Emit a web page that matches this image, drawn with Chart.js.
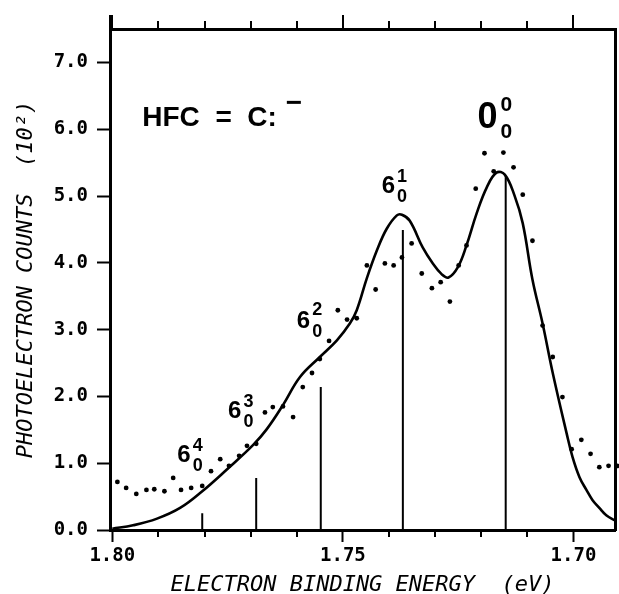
<!DOCTYPE html>
<html><head><meta charset="utf-8">
<script src="https://cdn.jsdelivr.net/npm/chart.js@4/dist/chart.umd.min.js"></script>
<style>html,body{margin:0;padding:0;background:#fff}#wrap{width:619px;height:594px;position:relative}</style>
</head><body><div id="wrap"><canvas id="c" width="619" height="594"></canvas></div>
<script>
// Measured photoelectron counts (10^2) vs electron binding energy (eV)
const dotEnergy = [1.7989,1.7970,1.7948,1.7926,1.7909,1.7887,1.7868,1.7851,1.7829,1.7805,
  1.7786,1.7766,1.7747,1.7725,1.7708,1.7688,1.7669,1.7652,1.7630,1.7608,
  1.7587,1.7567,1.7550,1.7530,1.7511,1.7491,1.7470,1.7448,1.7429,1.7409,
  1.7390,1.7372,1.7351,1.7329,1.7307,1.7288,1.7268,1.7249,1.7232,1.7212,
  1.7193,1.7173,1.7152,1.7130,1.7110,1.7089,1.7067,1.7045,1.7024,1.7004,
  1.6983,1.6963,1.6944,1.6924,1.6905];
const dotCounts = [0.72,0.63,0.54,0.60,0.61,0.58,0.78,0.60,0.63,0.66,
  0.88,1.06,0.96,1.11,1.26,1.29,1.76,1.84,1.85,1.69,
  2.14,2.35,2.56,2.83,3.29,3.15,3.17,3.96,3.60,3.99,
  3.96,4.08,4.29,3.84,3.62,3.71,3.42,3.96,4.26,5.11,
  5.64,5.37,5.65,5.43,5.02,4.33,3.06,2.59,1.99,1.21,
  1.35,1.14,0.94,0.96,0.96];
// Simulated (fitted) spectrum
const fitEnergy = [1.8000,1.7955,1.7903,1.7853,1.7805,1.7751,1.7695,1.7665,1.7630,1.7593,
  1.7550,1.7513,1.7485,1.7470,1.7448,1.7426,1.7405,1.7383,1.7372,1.7355,
  1.7327,1.7305,1.7286,1.7271,1.7251,1.7232,1.7210,1.7188,1.7167,1.7149,
  1.7128,1.7110,1.7089,1.7067,1.7045,1.7015,1.7002,1.6987,1.6972,1.6959,
  1.6944,1.6929,1.6909];
const fitCounts = [0.02,0.07,0.17,0.33,0.58,0.91,1.27,1.51,1.87,2.29,
  2.59,2.84,3.09,3.29,3.77,4.19,4.51,4.71,4.72,4.63,
  4.23,3.99,3.83,3.78,3.93,4.26,4.74,5.13,5.35,5.32,
  5.01,4.59,3.75,3.09,2.35,1.45,1.09,0.79,0.60,0.45,
  0.33,0.22,0.14];
// Franck-Condon stick spectrum
const stickEnergy = [1.7805,1.7688,1.7548,1.7370,1.7147];
const stickHeight = [0.25,0.78,2.14,4.49,5.30];
// Peak assignment labels
const peakMain = ['6','6','6','6','0'];
const peakSup  = ['4','3','2','1','0'];
const peakSub  = ['0','0','0','0','0'];
const speciesLabel = 'HFC  =  C:';
// Tick values
const xTickValues = [1.80,1.79,1.78,1.77,1.76,1.75,1.74,1.73,1.72,1.71,1.70];
const xLabelValues = [1.80,1.75,1.70];
const yTickValues = [0,1,2,3,4,5,6,7];

const isMajorX = v => xLabelValues.some(m => Math.abs(m - v) < 1e-6);

const annotPlugin = {
  id: 'annot',
  afterDatasetsDraw(chart, args, opts) {
    const {ctx, scales} = chart;
    const x = scales.x, y = scales.y;
    ctx.save();
    ctx.fillStyle = '#000';
    ctx.textAlign = 'left';
    ctx.textBaseline = 'alphabetic';
    opts.peaks.forEach((p, i) => {
      const px = x.getPixelForValue(p.e), py = y.getPixelForValue(p.v);
      ctx.font = 'bold ' + p.size + 'px "Liberation Sans", Arial, sans-serif';
      ctx.fillText(peakMain[i], px, py);
      const w = ctx.measureText(peakMain[i]).width;
      ctx.font = 'bold ' + p.small + 'px "Liberation Sans", Arial, sans-serif';
      ctx.fillText(peakSup[i], px + w + p.gap, py - p.up);
      ctx.fillText(peakSub[i], px + w + p.gap, py + p.down);
    });
    const s = opts.species;
    const sx = x.getPixelForValue(s.e), sy = y.getPixelForValue(s.v);
    ctx.font = 'bold ' + s.size + 'px "Liberation Sans", Arial, sans-serif';
    ctx.fillText(speciesLabel, sx, sy);
    const sw = ctx.measureText(speciesLabel).width;
    ctx.fillRect(sx + sw + 10, sy - 25, 14, 3);
    ctx.restore();
  }
};

const frameTicksPlugin = {
  id: 'frameTicks',
  afterDraw(chart) {
    const ctx = chart.ctx;
    const area = chart.chartArea;
    const x = chart.scales.x;
    ctx.save();
    ctx.fillStyle = '#000';
    for (const v of xTickValues) {
      const px = Math.round(x.getPixelForValue(v));
      if (isMajorX(v)) {
        ctx.fillRect(px - 1, area.top - 14, 2, 14);
      } else {
        ctx.fillRect(px - 1, area.top - 8, 2, 8);
        ctx.fillRect(px - 1, area.bottom, 2, 7);
      }
    }
    ctx.fillRect(Math.round(area.left) - 1, area.top - 14, 3, 14);
    ctx.restore();
  }
};

const dots = dotEnergy.map((e, i) => ({x: e, y: dotCounts[i]}));
const fit = fitEnergy.map((e, i) => ({x: e, y: fitCounts[i]}));
const sticks = stickEnergy.flatMap((e, i) => [{x: e, y: 0}, {x: e, y: stickHeight[i]}, {x: e, y: null}]);

const tickFont = {family: '"DejaVu Sans Mono", monospace', size: 19, weight: 'bold'};
const titleFont = {family: '"DejaVu Sans Mono", monospace', size: 22, style: 'italic', lineHeight: 0.8};

new Chart(document.getElementById('c'), {
  type: 'scatter',
  data: {
    datasets: [
      {label: 'Fit', type: 'line', data: fit, borderColor: '#000', borderWidth: 2.6,
       pointRadius: 0, tension: 0.4, fill: false},
      {label: 'Sticks', type: 'line', data: sticks, borderColor: '#000', borderWidth: 2,
       pointRadius: 0, spanGaps: false, fill: false},
      {label: 'Data', data: dots, backgroundColor: '#000', borderColor: '#000',
       pointRadius: 2.4, pointBorderWidth: 0, clip: false}
    ]
  },
  options: {
    responsive: false,
    animation: false,
    devicePixelRatio: 1,
    layout: {padding: 0},
    plugins: {
      legend: {display: false},
      tooltip: {enabled: false},
      annot: {
        peaks: [
          {e: 1.7859, v: 1.02, size: 24, small: 18, gap: 2, up: 11, down: 9},
          {e: 1.7749, v: 1.67, size: 24, small: 18, gap: 2, up: 11, down: 9},
          {e: 1.7600, v: 3.02, size: 24, small: 18, gap: 2, up: 13, down: 9},
          {e: 1.7416, v: 5.04, size: 24, small: 18, gap: 2, up: 11, down: 9},
          {e: 1.7208, v: 6.02, size: 36, small: 21, gap: 3, up: 17, down: 10}
        ],
        species: {e: 1.7935, v: 6.05, size: 28}
      }
    },
    scales: {
      x: {
        type: 'linear', position: 'bottom', reverse: true, min: 1.691, max: 1.8005,
        afterBuildTicks: s => { s.ticks = xTickValues.map(v => ({value: v})); },
        afterFit: s => { s.height = 64; },
        ticks: {
          autoSkip: false, maxRotation: 0, minRotation: 0, color: '#000', font: tickFont, padding: 3,
          callback: v => isMajorX(v) ? v.toFixed(2) : ''
        },
        grid: {drawOnChartArea: false, tickLength: 12, tickWidth: 2,
               tickColor: c => (c.tick && isMajorX(c.tick.value)) ? '#000' : 'rgba(0,0,0,0)'},
        border: {display: true, color: '#000', width: 3},
        title: {display: true, text: 'ELECTRON BINDING ENERGY  (eV)', color: '#000', font: titleFont, padding: 0}
      },
      xTop: {
        type: 'linear', position: 'top', reverse: true, min: 1.691, max: 1.8005,
        afterFit: s => { s.height = 29; },
        ticks: {display: false},
        grid: {display: false},
        border: {display: true, color: '#000', width: 3}
      },
      y: {
        type: 'linear', position: 'left', min: 0, max: 7.5,
        afterBuildTicks: s => { s.ticks = yTickValues.map(v => ({value: v})); },
        afterFit: s => { s.width = 110; },
        ticks: {color: '#000', font: tickFont, padding: 9, callback: v => v.toFixed(1)},
        grid: {drawOnChartArea: false, tickLength: 13, tickWidth: 2, color: '#000'},
        border: {display: true, color: '#000', width: 3},
        title: {display: true, text: 'PHOTOELECTRON COUNTS  (10²)', color: '#000', font: titleFont,
                padding: {top: 17, bottom: 0}}
      },
      yRight: {
        type: 'linear', position: 'right', min: 0, max: 7.5,
        afterFit: s => { s.width = 3; },
        ticks: {display: false},
        grid: {display: false},
        border: {display: true, color: '#000', width: 3}
      }
    }
  },
  plugins: [annotPlugin, frameTicksPlugin]
});
</script>
</body></html>
